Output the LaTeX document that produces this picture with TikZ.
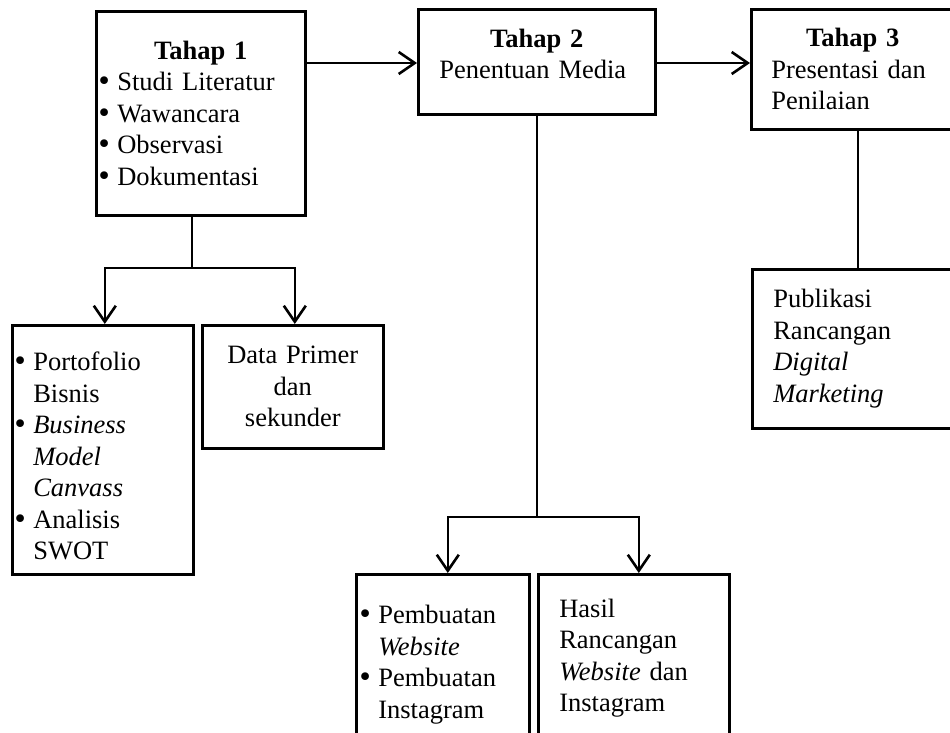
\documentclass[tikz,border=0pt]{standalone}
\usepackage{fontspec}
\setmainfont{Liberation Serif}
\newfontfamily\bulletfont{DejaVu Sans}
\usetikzlibrary{arrows.meta}

\newcommand{\itm}{\par\noindent\hangindent=19pt\hangafter=1\makebox[19pt][l]{\hspace{-2pt}{\bulletfont •}}}
\newcommand{\bottompad}[1]{\par\nointerlineskip\vbox to #1{}}

\tikzset{
  box/.style={draw, line width=2.6pt, anchor=north west, inner ysep=0pt,
    execute at begin node={\setlength{\parindent}{0pt}\raggedright}},
  line/.style={line width=2.6pt},
  arr/.style={line width=2.6pt, -{Straight Barb[length=16pt,width=22pt]}}
}

\begin{document}
\begin{tikzpicture}[x=1pt, y=-1pt, font=\fontsize{26.5}{31.5}\selectfont]
\useasboundingbox (0,0) rectangle (950,733);

\coordinate (A) at (95,10);
\coordinate (B) at (417,8);
\coordinate (C) at (750,8);
\coordinate (D) at (11,324);
\coordinate (E) at (201,324);
\coordinate (F) at (751,268);
\coordinate (G) at (355,573);
\coordinate (H) at (537,573);

\coordinate (J1) at (192,268);
\coordinate (J2) at (537,517);
\coordinate (J3) at (858,200);

% tahap boxes
\node [box, minimum width=209pt, text width=205pt, inner xsep=2pt, minimum height=204pt] (tahap1) at (A)
  {{\centering\textbf{Tahap 1}\par}\itm Studi Literatur\itm Wawancara\itm Observasi\itm Dokumentasi\par};
\node [box, minimum width=237pt, text width=195pt, inner xsep=21pt, minimum height=105pt] (tahap2) at (B)
  {{\centering\textbf{Tahap 2}\par}Penentuan Media\bottompad{16pt}};
\node [box, minimum width=203pt, text width=163pt, inner xsep=20pt, minimum height=120pt] (tahap3) at (C)
  {{\centering\textbf{Tahap 3}\par}Presentasi dan\newline Penilaian};

% hasil boxes
\node [box, minimum width=181pt, text width=177pt, inner xsep=2pt, minimum height=249pt] (porto) at (D)
  {\itm Portofolio\newline Bisnis\itm \textit{Business}\newline\textit{Model}\newline\textit{Canvass}\itm Analisis\newline SWOT\par};
\node [box, minimum width=181pt, text width=177pt, inner xsep=2pt, minimum height=123pt] (data) at (E)
  {\centering Data Primer\\dan\\sekunder\par};
\node [box, minimum width=202pt, text width=160pt, inner xsep=21pt, minimum height=159pt] (publik) at (F)
  {Publikasi\newline Rancangan\newline\textit{Digital}\newline\textit{Marketing}};
\node [box, minimum width=173pt, text width=167pt, inner xsep=3pt, minimum height=168pt] (buat) at (G)
  {\itm Pembuatan\newline\textit{Website}\itm Pembuatan\newline Instagram\par};
\node [box, minimum width=191pt, text width=149pt, inner xsep=21pt, minimum height=168pt] (hasil) at (H)
  {Hasil\newline Rancangan\newline\textit{Website} dan\newline Instagram};

\draw [arr] ([yshift=-53pt]tahap1.north east) -- ([yshift=-55pt]tahap2.north west);
\draw [arr] ([yshift=-55pt]tahap2.north east) -- ([yshift=-55pt]tahap3.north west);

\draw [line] (tahap1.south -| J1) -- (J1);
\draw [arr] (J1) -| ([xshift=2pt]porto.north);
\draw [arr] (J1) -| ([xshift=2pt]data.north);

\draw [line] (tahap2.south -| J2) -- (J2);
\draw [arr] (J2) -| ([xshift=5pt]buat.north);
\draw [arr] (J2) -| ([xshift=5pt]hasil.north);

\draw [line] (tahap3.south -| J3) -- (publik.north -| J3);

\end{tikzpicture}
\end{document}
